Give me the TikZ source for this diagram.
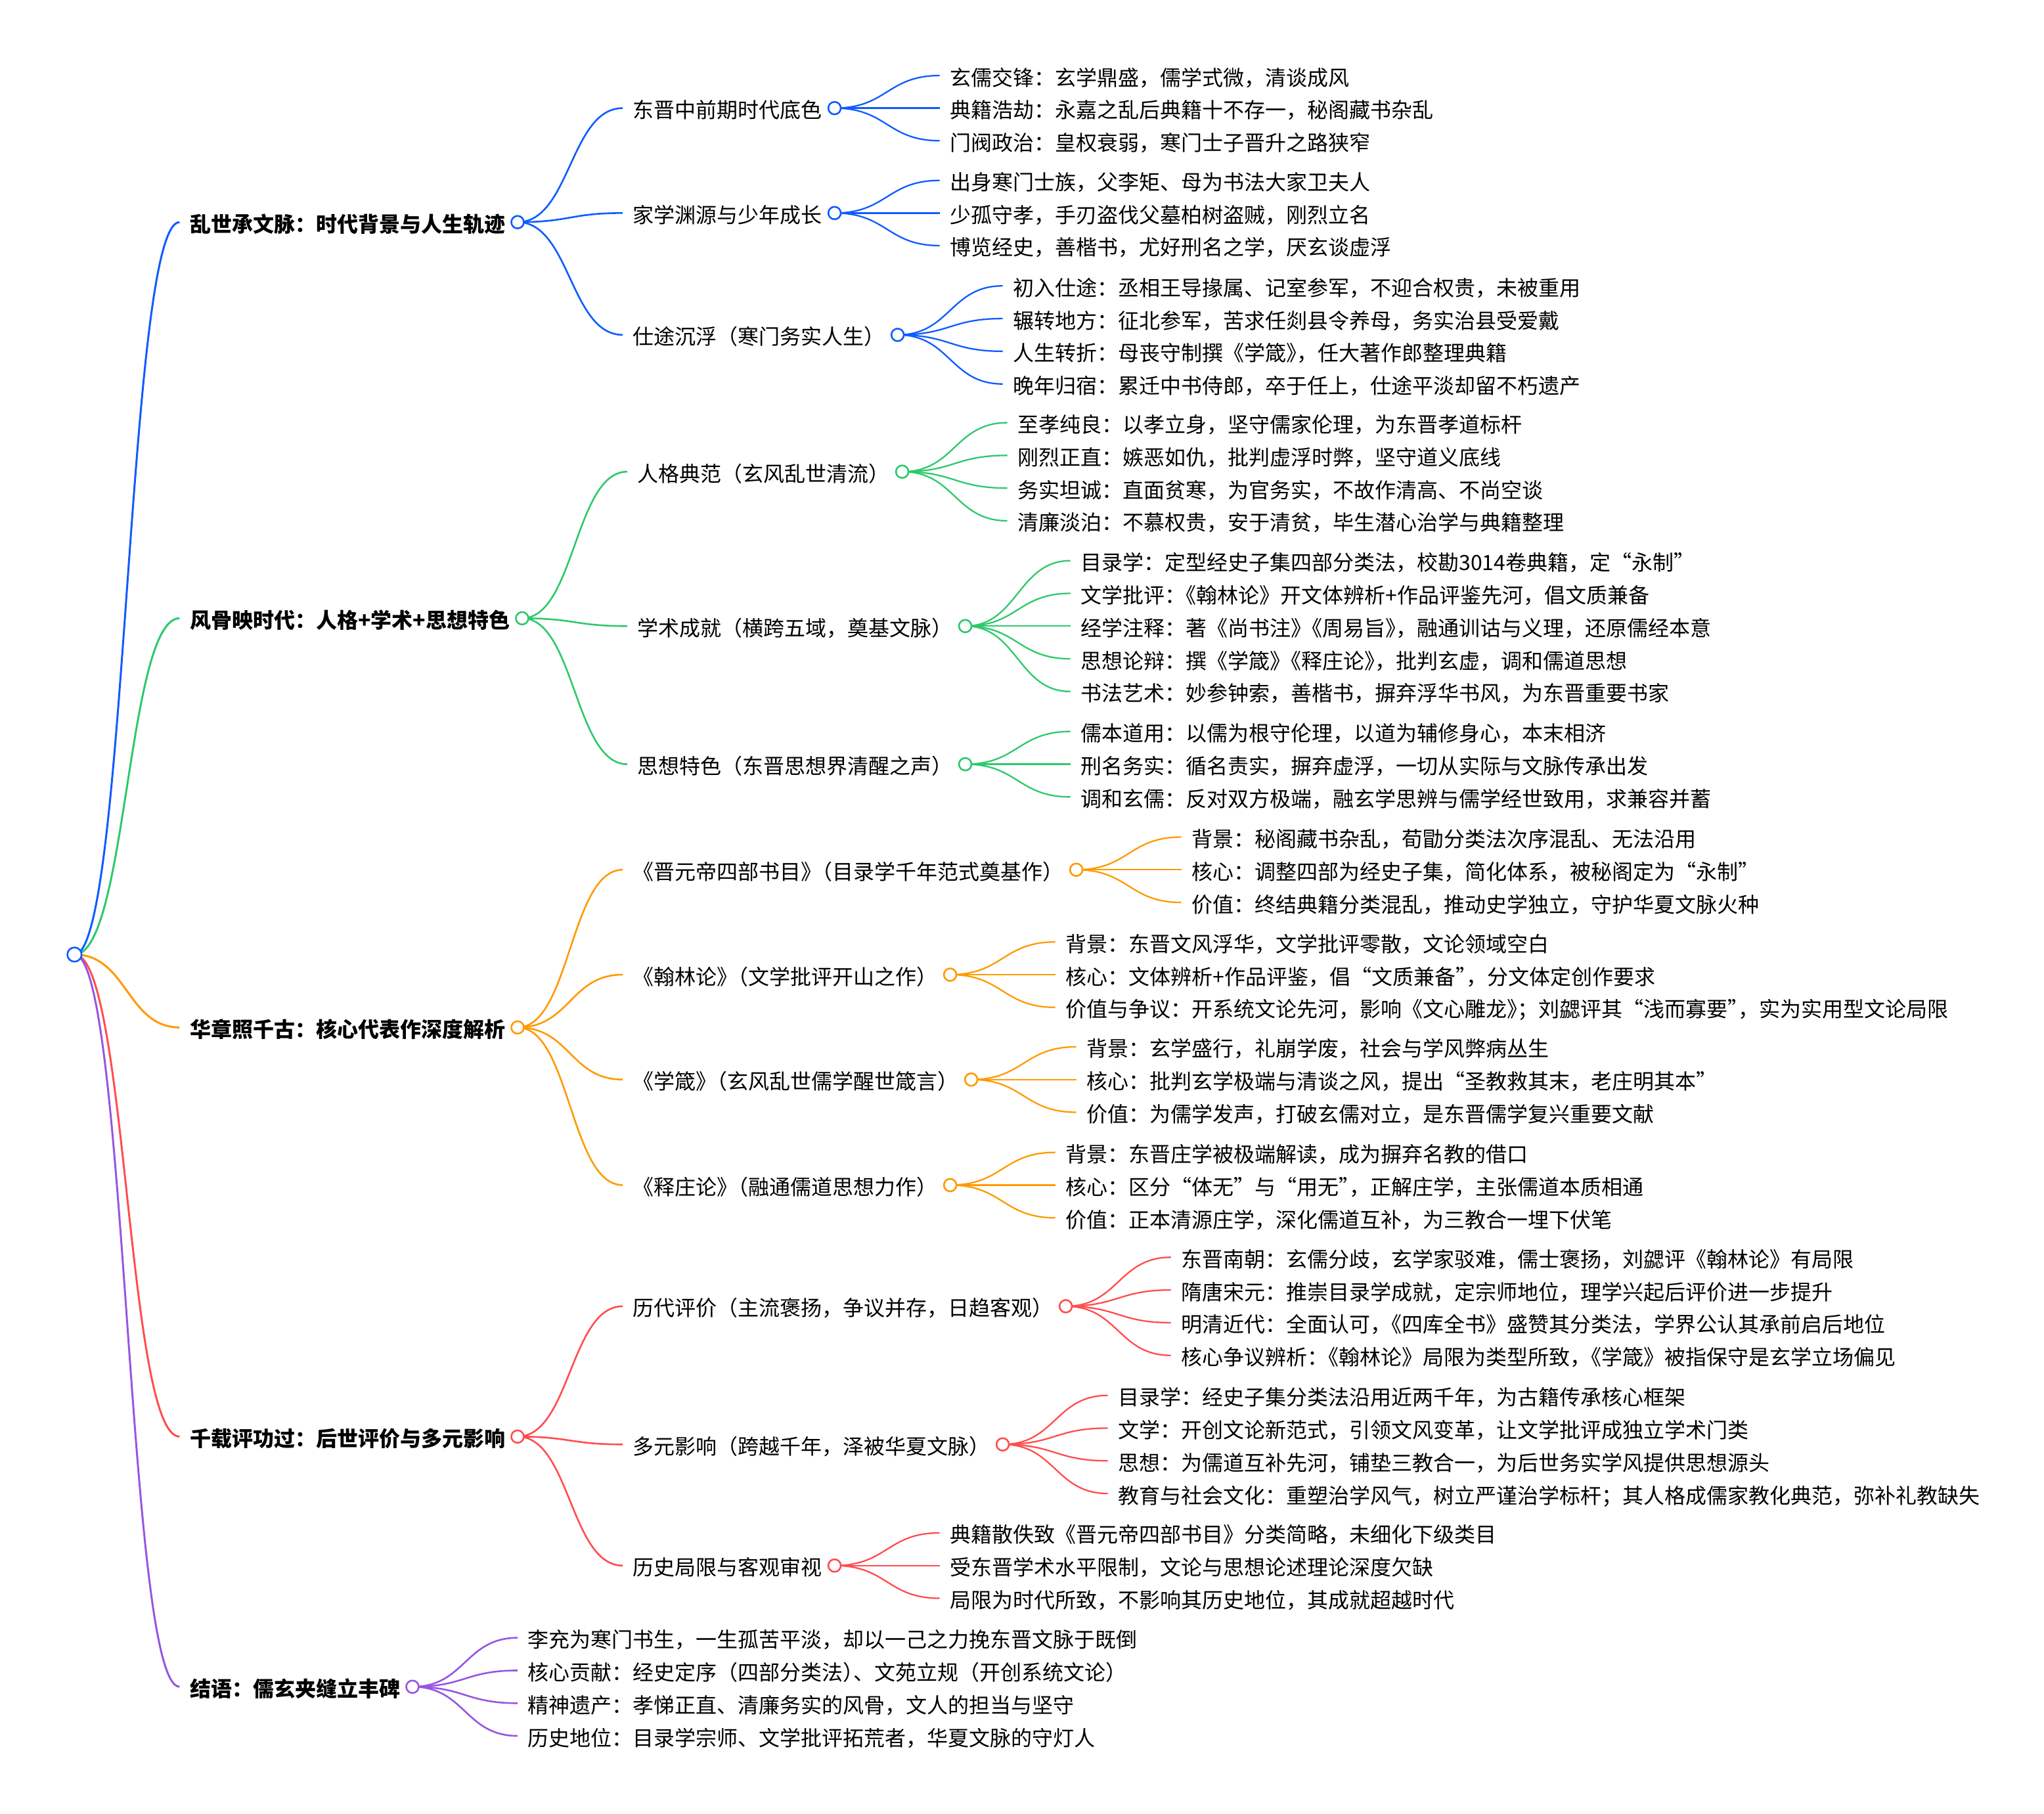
\documentclass[tikz,border=0pt]{standalone}
\usepackage{fontspec}
\setmainfont{Noto Sans CJK SC}
\usetikzlibrary{calc}
\definecolor{cb}{HTML}{0F5BFF}
\definecolor{cg}{HTML}{2DC96C}
\definecolor{co}{HTML}{FF9A00}
\definecolor{cr}{HTML}{FF4D4F}
\definecolor{cp}{HTML}{9656E3}
\newcommand\tk{\kern-0.5em}
\tikzset{
  txt/.style={inner sep=0pt, outer sep=0pt, text height=14bp, text depth=2bp,
    font=\fontsize{16bp}{19bp}\selectfont, anchor=west, text=black},
  lone/.style={txt, font=\fontsize{16bp}{19bp}\selectfont\bfseries},
  lk0/.style={line width=1.5bp},
  lk1/.style={line width=1.3bp},
  lk2/.style={line width=1.15bp},
  dot/.style={line width=1.3bp, fill=white}
}
% #1 name, #2 parent circle, #3 y (ref units), #4 style, #5 text
\newcommand\mmtext[5]{%
  \path let \p1=(#2) in node[#4] (#1) at (\x1+87.9bp,{-#3*0.992bp}) {#5};
  \coordinate (#1c) at ([xshift=9.4bp,yshift=1.5bp]#1.east);
  \coordinate (#1e) at ([xshift=-7.9bp,yshift=1.5bp]#1.west);
}
\newcommand\mmlink[3]{%
  \draw[#1] let \p1=(#2), \p2=(#3) in (\p1) .. controls ({(\x1+\x2)/2},\y1) and ({(\x1+\x2)/2},\y2) .. (\p2);
}
\begin{document}
\begin{tikzpicture}
\useasboundingbox (0,0) rectangle (1556bp,-1381bp);
\coordinate (rc) at (56.7bp,-726.7bp);
% ---------- level 1
\mmtext{a}{rc}{172}{lone}{乱世承文脉：时代背景与人生轨迹}
\mmtext{b}{rc}{476}{lone}{风骨映时代：人格+学术+思想特色}
\mmtext{c}{rc}{790}{lone}{华章照千古：核心代表作深度解析}
\mmtext{d}{rc}{1104}{lone}{千载评功过：后世评价与多元影响}
\mmtext{e}{rc}{1296}{lone}{结语：儒玄夹缝立丰碑}
% ---------- level 2
\mmtext{a1}{ac}{84.5}{txt}{东晋中前期时代底色}
\mmtext{a2}{ac}{165}{txt}{家学渊源与少年成长}
\mmtext{a3}{ac}{258.5}{txt}{仕途沉浮（寒门务实人生）}
\mmtext{b1}{bc}{363.5}{txt}{人格典范（玄风乱世清流）}
\mmtext{b2}{bc}{482}{txt}{学术成就（横跨五域，奠基文脉）}
\mmtext{b3}{bc}{588}{txt}{思想特色（东晋思想界清醒之声）}
\mmtext{c1}{cc}{669}{txt}{《晋元帝四部书目》\tk（目录学千年范式奠基作）}
\mmtext{c2}{cc}{749.5}{txt}{《翰林论》\tk（文学批评开山之作）}
\mmtext{c3}{cc}{830}{txt}{《学箴》\tk（玄风乱世儒学醒世箴言）}
\mmtext{c4}{cc}{911}{txt}{《释庄论》\tk（融通儒道思想力作）}
\mmtext{d1}{dc}{1004}{txt}{历代评价（主流褒扬，争议并存，日趋客观）}
\mmtext{d2}{dc}{1110}{txt}{多元影响（跨越千年，泽被华夏文脉）}
\mmtext{d3}{dc}{1203}{txt}{历史局限与客观审视}
\mmtext{e1}{ec}{1258.4}{txt}{李充为寒门书生，一生孤苦平淡，却以一己之力挽东晋文脉于既倒}
\mmtext{e2}{ec}{1283.5}{txt}{核心贡献：经史定序（四部分类法）\tk、文苑立规（开创系统文论）}
\mmtext{e3}{ec}{1308.6}{txt}{精神遗产：孝悌正直、清廉务实的风骨，文人的担当与坚守}
\mmtext{e4}{ec}{1333.7}{txt}{历史地位：目录学宗师、文学批评拓荒者，华夏文脉的守灯人}
% ---------- level 3
\mmtext{a11}{a1c}{59.5}{txt}{玄儒交锋：玄学鼎盛，儒学式微，清谈成风}
\mmtext{a12}{a1c}{84.5}{txt}{典籍浩劫：永嘉之乱后典籍十不存一，秘阁藏书杂乱}
\mmtext{a13}{a1c}{109.5}{txt}{门阀政治：皇权衰弱，寒门士子晋升之路狭窄}
\mmtext{a21}{a2c}{140}{txt}{出身寒门士族，父李矩、母为书法大家卫夫人}
\mmtext{a22}{a2c}{165}{txt}{少孤守孝，手刃盗伐父墓柏树盗贼，刚烈立名}
\mmtext{a23}{a2c}{190}{txt}{博览经史，善楷书，尤好刑名之学，厌玄谈虚浮}
\mmtext{a31}{a3c}{220.9}{txt}{初入仕途：丞相王导掾属、记室参军，不迎合权贵，未被重用}
\mmtext{a32}{a3c}{246}{txt}{辗转地方：征北参军，苦求任剡县令养母，务实治县受爱戴}
\mmtext{a33}{a3c}{271.1}{txt}{人生转折：母丧守制撰《学箴》\tk，任大著作郎整理典籍}
\mmtext{a34}{a3c}{296.2}{txt}{晚年归宿：累迁中书侍郎，卒于任上，仕途平淡却留不朽遗产}
\mmtext{b11}{b1c}{325.9}{txt}{至孝纯良：以孝立身，坚守儒家伦理，为东晋孝道标杆}
\mmtext{b12}{b1c}{351}{txt}{刚烈正直：嫉恶如仇，批判虚浮时弊，坚守道义底线}
\mmtext{b13}{b1c}{376.1}{txt}{务实坦诚：直面贫寒，为官务实，不故作清高、不尚空谈}
\mmtext{b14}{b1c}{401.2}{txt}{清廉淡泊：不慕权贵，安于清贫，毕生潜心治学与典籍整理}
\mmtext{b21}{b2c}{431.8}{txt}{目录学：定型经史子集四部分类法，校勘3014卷典籍，定“永制”}
\mmtext{b22}{b2c}{456.9}{txt}{文学批评：\tk《翰林论》开文体辨析+作品评鉴先河，倡文质兼备}
\mmtext{b23}{b2c}{482}{txt}{经学注释：著《尚书注》\tk《周易旨》\tk，融通训诂与义理，还原儒经本意}
\mmtext{b24}{b2c}{507.1}{txt}{思想论辩：撰《学箴》\tk《释庄论》\tk，批判玄虚，调和儒道思想}
\mmtext{b25}{b2c}{532.2}{txt}{书法艺术：妙参钟索，善楷书，摒弃浮华书风，为东晋重要书家}
\mmtext{b31}{b3c}{562.9}{txt}{儒本道用：以儒为根守伦理，以道为辅修身心，本末相济}
\mmtext{b32}{b3c}{588}{txt}{刑名务实：循名责实，摒弃虚浮，一切从实际与文脉传承出发}
\mmtext{b33}{b3c}{613.1}{txt}{调和玄儒：反对双方极端，融玄学思辨与儒学经世致用，求兼容并蓄}
\mmtext{c11}{c1c}{643.9}{txt}{背景：秘阁藏书杂乱，荀勖分类法次序混乱、无法沿用}
\mmtext{c12}{c1c}{669}{txt}{核心：调整四部为经史子集，简化体系，被秘阁定为“永制”}
\mmtext{c13}{c1c}{694.1}{txt}{价值：终结典籍分类混乱，推动史学独立，守护华夏文脉火种}
\mmtext{c21}{c2c}{724.4}{txt}{背景：东晋文风浮华，文学批评零散，文论领域空白}
\mmtext{c22}{c2c}{749.5}{txt}{核心：文体辨析+作品评鉴，倡“文质兼备”\tk，分文体定创作要求}
\mmtext{c23}{c2c}{774.6}{txt}{价值与争议：开系统文论先河，影响《文心雕龙》\tk；刘勰评其“浅而寡要”\tk，实为实用型文论局限}
\mmtext{c31}{c3c}{804.9}{txt}{背景：玄学盛行，礼崩学废，社会与学风弊病丛生}
\mmtext{c32}{c3c}{830}{txt}{核心：批判玄学极端与清谈之风，提出“圣教救其末，老庄明其本”}
\mmtext{c33}{c3c}{855.1}{txt}{价值：为儒学发声，打破玄儒对立，是东晋儒学复兴重要文献}
\mmtext{c41}{c4c}{885.9}{txt}{背景：东晋庄学被极端解读，成为摒弃名教的借口}
\mmtext{c42}{c4c}{911}{txt}{核心：区分“体无”与“用无”\tk，正解庄学，主张儒道本质相通}
\mmtext{c43}{c4c}{936.1}{txt}{价值：正本清源庄学，深化儒道互补，为三教合一埋下伏笔}
\mmtext{d11}{d1c}{966.4}{txt}{东晋南朝：玄儒分歧，玄学家驳难，儒士褒扬，刘勰评《翰林论》有局限}
\mmtext{d12}{d1c}{991.5}{txt}{隋唐宋元：推崇目录学成就，定宗师地位，理学兴起后评价进一步提升}
\mmtext{d13}{d1c}{1016.6}{txt}{明清近代：全面认可，\tk《四库全书》盛赞其分类法，学界公认其承前启后地位}
\mmtext{d14}{d1c}{1041.7}{txt}{核心争议辨析：\tk《翰林论》局限为类型所致，\tk《学箴》被指保守是玄学立场偏见}
\mmtext{d21}{d2c}{1072.4}{txt}{目录学：经史子集分类法沿用近两千年，为古籍传承核心框架}
\mmtext{d22}{d2c}{1097.5}{txt}{文学：开创文论新范式，引领文风变革，让文学批评成独立学术门类}
\mmtext{d23}{d2c}{1122.6}{txt}{思想：为儒道互补先河，铺垫三教合一，为后世务实学风提供思想源头}
\mmtext{d24}{d2c}{1147.7}{txt}{教育与社会文化：重塑治学风气，树立严谨治学标杆；其人格成儒家教化典范，弥补礼教缺失}
\mmtext{d31}{d3c}{1177.9}{txt}{典籍散佚致《晋元帝四部书目》分类简略，未细化下级类目}
\mmtext{d32}{d3c}{1203}{txt}{受东晋学术水平限制，文论与思想论述理论深度欠缺}
\mmtext{d33}{d3c}{1228.1}{txt}{局限为时代所致，不影响其历史地位，其成就超越时代}
% ---------- connectors
\mmlink{cb,lk0}{rc}{ae}
\mmlink{cg,lk0}{rc}{be}
\mmlink{co,lk0}{rc}{ce}
\mmlink{cr,lk0}{rc}{de}
\mmlink{cp,lk0}{rc}{ee}
\foreach \u/\v in {a1/a,a2/a,a3/a}{\mmlink{cb,lk1}{\v c}{\u e}}
\foreach \u/\v in {b1/b,b2/b,b3/b}{\mmlink{cg,lk1}{\v c}{\u e}}
\foreach \u/\v in {c1/c,c2/c,c3/c,c4/c}{\mmlink{co,lk1}{\v c}{\u e}}
\foreach \u/\v in {d1/d,d2/d,d3/d}{\mmlink{cr,lk1}{\v c}{\u e}}
\foreach \u in {e1,e2,e3,e4}{\mmlink{cp,lk1}{ec}{\u e}}
\foreach \u/\v in {a11/a1,a12/a1,a13/a1,a21/a2,a22/a2,a23/a2,a31/a3,a32/a3,a33/a3,a34/a3}{\mmlink{cb,lk2}{\v c}{\u e}}
\foreach \u/\v in {b11/b1,b12/b1,b13/b1,b14/b1,b21/b2,b22/b2,b23/b2,b24/b2,b25/b2,b31/b3,b32/b3,b33/b3}{\mmlink{cg,lk2}{\v c}{\u e}}
\foreach \u/\v in {c11/c1,c12/c1,c13/c1,c21/c2,c22/c2,c23/c2,c31/c3,c32/c3,c33/c3,c41/c4,c42/c4,c43/c4}{\mmlink{co,lk2}{\v c}{\u e}}
\foreach \u/\v in {d11/d1,d12/d1,d13/d1,d14/d1,d21/d2,d22/d2,d23/d2,d24/d2,d31/d3,d32/d3,d33/d3}{\mmlink{cr,lk2}{\v c}{\u e}}
% ---------- circles
\draw[cb,dot] (rc) circle (5.4bp);
\foreach \w in {a,a1,a2,a3}{\draw[cb,dot] (\w c) circle (4.75bp);}
\foreach \w in {b,b1,b2,b3}{\draw[cg,dot] (\w c) circle (4.75bp);}
\foreach \w in {c,c1,c2,c3,c4}{\draw[co,dot] (\w c) circle (4.75bp);}
\foreach \w in {d,d1,d2,d3}{\draw[cr,dot] (\w c) circle (4.75bp);}
\draw[cp,dot] (ec) circle (4.75bp);
\end{tikzpicture}
\end{document}
